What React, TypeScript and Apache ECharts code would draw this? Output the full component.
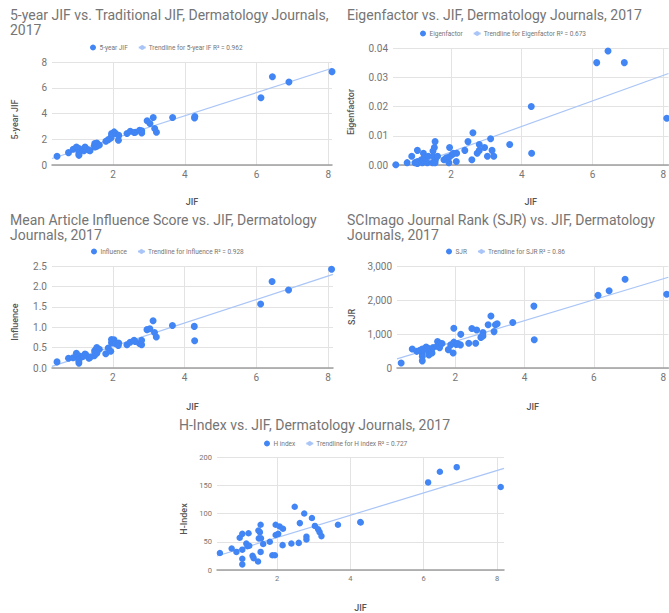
import React, { useEffect, useRef } from "react";
import * as echarts from "echarts";

// Journal Impact Factor (x for every panel)
const jif = [0.44, 0.76, 0.89, 0.98, 1.05, 1.05, 1.05, 1.05, 1.16, 1.22, 1.19, 1.24, 1.33, 1.36, 1.48, 1.49, 1.53, 1.5, 1.56, 1.55, 1.55, 1.62, 1.8, 1.87, 1.94, 1.96, 2.03, 1.96, 2.07, 2.16, 2.15, 2.39, 2.48, 2.59, 2.62, 2.74, 2.8, 2.8, 2.95, 3.03, 3.12, 3.16, 3.21, 3.66, 4.27, 4.28, 6.12, 6.44, 6.9, 8.1];
const fiveYear = [0.68, 0.96, 1.22, 1.4, 1.27, 1.0, 0.75, 0.85, 1.2, 1.4, 1.1, 1.3, 1.14, 1.1, 1.48, 1.66, 1.6, 1.4, 1.53, 1.7, 1.45, 1.55, 1.84, 1.97, 2.1, 2.3, 2.57, 2.44, 2.45, 2.3, 1.92, 2.44, 2.62, 2.52, 2.55, 2.7, 2.49, 2.65, 3.43, 3.22, 3.69, 2.83, 2.55, 3.69, 3.66, 3.76, 5.22, 6.86, 6.44, 7.25];
const eigen = [0.0001, 0.0008, 0.003, 0.0008, 0.005, 0.0008, 0.0005, 0.0012, 0.0018, 0.004, 0.0008, 0.0025, 0.0008, 0.003, 0.0008, 0.0048, 0.006, 0.003, 0.0018, 0.008, 0.0008, 0.003, 0.0018, 0.0025, 0.0008, 0.006, 0.0035, 0.0028, 0.004, 0.004, 0.0012, 0.005, 0.008, 0.0018, 0.011, 0.004, 0.005, 0.007, 0.006, 0.003, 0.009, 0.005, 0.003, 0.007, 0.02, 0.004, 0.035, 0.039, 0.035, 0.016];
const influence = [0.15, 0.24, 0.25, 0.36, 0.3, 0.2, 0.12, 0.18, 0.28, 0.34, 0.3, 0.33, 0.24, 0.26, 0.3, 0.42, 0.45, 0.38, 0.47, 0.5, 0.36, 0.46, 0.35, 0.49, 0.41, 0.62, 0.69, 0.7, 0.6, 0.61, 0.55, 0.57, 0.63, 0.68, 0.65, 0.6, 0.57, 0.68, 0.94, 0.96, 1.16, 0.87, 0.76, 1.04, 1.02, 0.67, 1.57, 2.12, 1.91, 2.42];
const sjr = [146, 560, 490, 520, 430, 340, 210, 560, 620, 580, 540, 380, 440, 600, 640, 780, 700, 650, 730, 690, 600, 720, 540, 680, 440, 1170, 690, 760, 720, 990, 680, 730, 1160, 730, 1120, 900, 1040, 940, 1270, 1530, 1070, 1270, 1300, 1340, 1820, 830, 2140, 2270, 2610, 2170];
const hIndex = [30, 38, 32, 57, 64, 36, 20, 10, 47, 65, 42, 43, 25, 21, 15, 70, 67, 56, 56, 80, 32, 46, 50, 26, 26, 62, 64, 80, 77, 73, 44, 47, 112, 48, 83, 100, 59, 54, 92, 78, 72, 67, 60, 80, 85, 84, 155, 174, 182, 147];

const xTicks = [2, 4, 6, 8];

const titles = [
  "5-year JIF vs. Traditional JIF, Dermatology Journals,\n2017",
  "Eigenfactor vs. JIF, Dermatology Journals, 2017",
  "Mean Article Influence Score vs. JIF, Dermatology\nJournals, 2017",
  "SCImago Journal Rank (SJR) vs. JIF, Dermatology\nJournals, 2017",
  "H-Index vs. JIF, Dermatology Journals, 2017",
];
const seriesNames = ["5-year JIF", "Eigenfactor", "Influence", "SJR", "H index"];
const trendNames = [
  "Trendline for 5-year IF R² = 0.962",
  "Trendline for Eigenfactor R² = 0.673",
  "Trendline for Influence R² = 0.928",
  "Trendline for SJR R² = 0.86",
  "Trendline for H index R² = 0.727",
];
const yTitles = ["5-year JIF", "Eigenfactor", "Influence", "SJR", "H-Index"];
const yValues = [fiveYear, eigen, influence, sjr, hIndex];

const BLUE = "#4285f4";
const TREND = "#a9c5f7";
const GRAY = "#757575";
const FONT = "Roboto, Arial, sans-serif";

function regression(xs: number[], ys: number[]) {
  const n = xs.length;
  const mx = xs.reduce((a, b) => a + b, 0) / n;
  const my = ys.reduce((a, b) => a + b, 0) / n;
  let sxy = 0;
  let sxx = 0;
  for (let i = 0; i < n; i++) {
    sxy += (xs[i] - mx) * (ys[i] - my);
    sxx += (xs[i] - mx) * (xs[i] - mx);
  }
  const b = sxy / sxx;
  return { a: my - b * mx, b };
}

const layouts = [
  { grid: { left: 52, top: 62, width: 280, height: 103 }, xMin: 0.3, xMax: 8.1, yMax: 8, yInt: 2, fmt: (v: number) => String(v), title: { left: 10, top: 7 }, legend: { left: 90, top: 44 }, nameGap: 33, shift: 12, labelSize: 10, sym: 7, xNameGap: 32 },
  { grid: { left: 393, top: 48, width: 277, height: 117 }, xMin: 0.36, xMax: 8.15, yMax: 0.04, yInt: 0.01, fmt: (v: number) => v.toFixed(2), title: { left: 347, top: 7 }, legend: { left: 420, top: 30 }, nameGap: 38, shift: 11, labelSize: 10, sym: 7, xNameGap: 32 },
  { grid: { left: 52, top: 266, width: 281, height: 102 }, xMin: 0.3, xMax: 8.14, yMax: 2.5, yInt: 0.5, fmt: (v: number) => v.toFixed(1), title: { left: 10, top: 212 }, legend: { left: 91, top: 248 }, nameGap: 33, shift: 10, labelSize: 10, sym: 7, xNameGap: 34 },
  { grid: { left: 397, top: 266, width: 275, height: 102 }, xMin: 0.32, xMax: 8.15, yMax: 3000, yInt: 1000, fmt: (v: number) => v.toLocaleString("en-US"), title: { left: 347, top: 212 }, legend: { left: 446, top: 248 }, nameGap: 41, shift: 0, labelSize: 10, sym: 7, xNameGap: 34 },
  { grid: { left: 217, top: 457, width: 287, height: 117 }, xMin: 0.36, xMax: 8.19, yMax: 200, yInt: 50, fmt: (v: number) => String(v), title: { left: 179, top: 417 }, legend: { left: 264, top: 440 }, nameGap: 29, shift: 11, labelSize: 7.5, sym: 6.5, xNameGap: 33 },
];

export default function App() {
  const ref = useRef<HTMLDivElement>(null);
  useEffect(() => {
    document.body.style.margin = "0";
    const chart = echarts.init(ref.current!, undefined, { renderer: "svg" });
    const title: any[] = [];
    const legend: any[] = [];
    const grid: any[] = [];
    const xAxis: any[] = [];
    const yAxis: any[] = [];
    const series: any[] = [];
    layouts.forEach((L, i) => {
      title.push({
        text: titles[i],
        left: L.title.left,
        top: L.title.top,
        padding: 0,
        textStyle: { fontFamily: FONT, fontSize: 14, fontWeight: "normal", color: GRAY, lineHeight: 15 },
      });
      legend.push({
        left: L.legend.left,
        top: L.legend.top,
        padding: 0,
        itemWidth: 7,
        itemHeight: 6,
        itemGap: 10,
        data: [{ name: seriesNames[i], icon: "circle" }, { name: trendNames[i] }],
        textStyle: { fontFamily: FONT, fontSize: 6.5, color: GRAY, padding: [0, 0, 0, -2] },
        selectedMode: false,
      });
      grid.push({ ...L.grid });
      xAxis.push({
        type: "value",
        gridIndex: i,
        min: L.xMin,
        max: L.xMax,
        name: "JIF",
        nameLocation: "middle",
        nameGap: L.xNameGap,
        nameTextStyle: { fontFamily: FONT, fontSize: 9, color: "#555", fontWeight: 500 },
        axisLine: { show: true, onZero: false, lineStyle: { color: "#9e9e9e", width: 1.5 } },
        axisTick: { show: false, customValues: xTicks },
        axisLabel: { customValues: xTicks, fontFamily: FONT, fontSize: L.labelSize, color: GRAY, margin: 4 },
        splitLine: { show: true, lineStyle: { color: "#e3e3e3", width: 1 } },
      });
      yAxis.push({
        type: "value",
        gridIndex: i,
        min: 0,
        max: L.yMax,
        interval: L.yInt,
        name: yTitles[i],
        nameLocation: "middle",
        nameGap: L.nameGap,
        nameTextStyle: { fontFamily: FONT, fontSize: 9, color: "#555", fontWeight: 500, padding: [0, L.shift, 0, 0] },
        axisLine: { show: false },
        axisTick: { show: false },
        axisLabel: { formatter: L.fmt, fontFamily: FONT, fontSize: L.labelSize, color: GRAY, margin: 5 },
        splitLine: { show: true, lineStyle: { color: "#e3e3e3", width: 1 } },
      });
      const ys = yValues[i];
      const { a, b } = regression(jif, ys);
      series.push({
        type: "line",
        name: trendNames[i],
        xAxisIndex: i,
        yAxisIndex: i,
        symbol: "none",
        silent: true,
        lineStyle: { color: TREND, width: 1.2 },
        itemStyle: { color: TREND },
        data: [
          [L.xMin, a + b * L.xMin],
          [L.xMax, a + b * L.xMax],
        ],
        z: 1,
      });
      series.push({
        type: "scatter",
        name: seriesNames[i],
        xAxisIndex: i,
        yAxisIndex: i,
        symbol: "circle",
        symbolSize: L.sym,
        itemStyle: { color: BLUE, opacity: 1 },
        data: jif.map((x, k) => [x, ys[k]]),
        z: 3,
      });
    });
    chart.setOption({ animation: false, backgroundColor: "#ffffff", title, legend, grid, xAxis, yAxis, series });
    return () => chart.dispose();
  }, []);
  return <div ref={ref} style={{ position: "absolute", left: 0, top: 0, width: 669, height: 613 }} />;
}
